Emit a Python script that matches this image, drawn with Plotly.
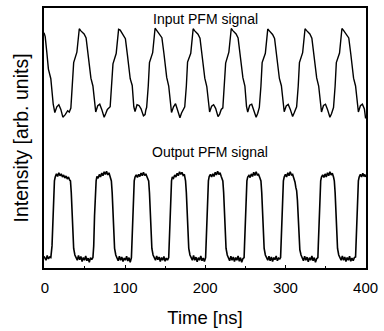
import plotly.graph_objects as go

# ---- Input PFM signal (time in ns, intensity in arb. units) ----
in_t = [-1, 0.5, 2.5, 4.5, 7.5, 10.5, 12.5, 15, 17.5, 20, 22.5, 25.5, 28.5, 30.5,
        32.5, 34.5, 36, 40, 42, 43, 45, 47, 49, 51.5, 54, 57.5, 60, 62, 63.5, 66, 68.5, 71, 74, 76, 78,
        81.5, 83.5, 85, 89, 91, 92, 94, 96, 98, 100.5, 103, 106.5, 109, 111, 112.5, 115, 117.5, 120, 123, 125, 126,
        127, 129, 130.5, 134.5, 136.5, 137.5, 139.5, 141.5, 143.5, 146, 148.5, 152, 154.5, 156.5, 158, 160.5, 163, 165.5, 168.5, 170.5, 172.5,
        174.5, 176.5, 178, 182, 184, 185, 187, 189, 191, 193.5, 196, 199.5, 202, 204, 205.5, 208, 210.5, 213, 216, 218, 220,
        222, 224, 225.5, 229.5, 231.5, 232.5, 234.5, 236.5, 238.5, 241, 243.5, 247, 249.5, 251.5, 253, 255.5, 258, 260.5, 263.5, 265.5, 266.5,
        267.5, 269.5, 271, 275, 277, 278, 280, 282, 284, 286.5, 289, 292.5, 295, 297, 298.5, 301, 303.5, 306, 309, 311, 313,
        314, 316, 317.5, 321.5, 323.5, 324.5, 326.5, 328.5, 330.5, 333, 335.5, 339, 341.5, 343.5, 345, 347.5, 350, 352.5, 355.5, 357.5, 359,
        360, 362, 363.5, 367.5, 369.5, 370.5, 372.5, 374.5, 376.5, 379, 381.5, 385, 387.5, 389.5, 391, 393.5, 396, 398.5, 400]
in_v = [0.905, 0.89, 0.83, 0.765, 0.728, 0.63, 0.598, 0.62, 0.628, 0.61, 0.58, 0.59, 0.605, 0.60,
        0.615, 0.70, 0.79, 0.83, 0.895, 0.92, 0.912, 0.905, 0.90, 0.885, 0.825, 0.73, 0.70, 0.625, 0.60, 0.624, 0.63, 0.61, 0.58, 0.594, 0.61,
        0.62, 0.705, 0.785, 0.825, 0.89, 0.918, 0.915, 0.906, 0.898, 0.882, 0.82, 0.728, 0.702, 0.62, 0.602, 0.628, 0.625, 0.612, 0.585, 0.59, 0.608,
        0.618, 0.70, 0.79, 0.828, 0.895, 0.922, 0.914, 0.904, 0.897, 0.886, 0.826, 0.733, 0.70, 0.626, 0.598, 0.62, 0.632, 0.608, 0.578, 0.596, 0.612,
        0.62, 0.70, 0.792, 0.826, 0.893, 0.92, 0.912, 0.906, 0.899, 0.884, 0.822, 0.73, 0.698, 0.624, 0.60, 0.622, 0.628, 0.614, 0.582, 0.592, 0.61,
        0.616, 0.702, 0.788, 0.83, 0.896, 0.921, 0.913, 0.905, 0.90, 0.885, 0.824, 0.732, 0.70, 0.622, 0.60, 0.626, 0.63, 0.61, 0.58, 0.595, 0.61,
        0.618, 0.70, 0.79, 0.826, 0.894, 0.919, 0.912, 0.904, 0.898, 0.883, 0.823, 0.729, 0.701, 0.625, 0.601, 0.623, 0.629, 0.611, 0.583, 0.597, 0.612,
        0.62, 0.70, 0.79, 0.828, 0.895, 0.92, 0.913, 0.906, 0.90, 0.884, 0.825, 0.731, 0.70, 0.624, 0.60, 0.625, 0.63, 0.61, 0.58, 0.593, 0.61,
        0.617, 0.70, 0.79, 0.827, 0.894, 0.921, 0.914, 0.905, 0.899, 0.885, 0.824, 0.73, 0.70, 0.625, 0.60, 0.624, 0.63, 0.612, 0.575]

# ---- Output PFM signal ----
out_t = [-1, 1.5, 3, 4.5, 6, 7.5,
         9, 10, 11, 12, 13, 14.5, 16, 17.5, 19, 20.5, 22, 23.5, 25, 26.5, 28, 29.5, 31, 32, 33, 34, 35, 36, 37.5, 39, 40.5, 42, 43.5, 45, 46.5, 48, 49.5, 51, 52.5, 54, 55.5, 57, 58.5, 60,
         61, 62, 63, 64, 65, 66.5, 68, 69.5, 71, 72.5, 74, 75.5, 77, 78.5, 80, 81.5, 83, 84, 85, 86, 87, 88.5, 90, 91.5, 93, 94.5, 96, 97.5, 99, 100.5, 102, 103.5, 105, 106.5, 108,
         108.5, 109.5, 110.5, 111.5, 112.5, 114, 115.5, 117, 118.5, 120, 121.5, 123, 124.5, 126, 127.5, 129.5, 130.5, 131.5, 132.5, 133.5, 135, 136.5, 138, 139.5, 141, 142.5, 144, 145.5, 147, 148.5, 150, 151.5, 153, 154.5,
         155, 156, 157, 158, 159, 160.5, 162, 163.5, 165, 166.5, 168, 169.5, 171, 172.5, 174, 175.5, 176.5, 177.5, 178.5, 179.5, 181, 182.5, 184, 185.5, 187, 188.5, 190, 191.5, 193, 194.5, 196, 197.5, 199, 200.5,
         201, 202, 203, 204, 205, 206.5, 208, 209.5, 211, 212.5, 214, 215.5, 217, 218.5, 220, 222, 223, 224, 225, 226, 227.5, 229, 230.5, 232, 233.5, 235, 236.5, 238, 239.5, 241, 242.5, 244, 245.5, 247, 248.5,
         249, 250, 251, 252, 253, 254.5, 256, 257.5, 259, 260.5, 262, 263.5, 265, 266.5, 268, 269.5, 270.5, 271.5, 272.5, 273.5, 275, 276.5, 278, 279.5, 281, 282.5, 284, 285.5, 287, 288.5, 290, 291.5, 293, 294,
         294.5, 295.5, 296.5, 297.5, 298.5, 300, 301.5, 303, 304.5, 306, 307.5, 309, 310.5, 312, 313, 314, 315, 316, 317, 318, 319.5, 321, 322.5, 324, 325.5, 327, 328.5, 330, 331.5, 333, 334.5, 336, 337.5, 339, 340.5,
         341, 342, 343, 344, 345, 346.5, 348, 349.5, 351, 352.5, 354, 355.5, 357, 358.5, 360, 361, 362, 363, 364, 365, 366.5, 368, 369.5, 371, 372.5, 374, 375.5, 377, 378.5, 380, 381.5, 383, 384.5, 386, 387.5,
         388, 389, 390, 391, 392, 393.5, 395, 396.5, 398, 399, 400]
out_v = [0.045, 0.03, 0.048, 0.035, 0.042, 0.04,
         0.085, 0.20, 0.29, 0.335, 0.35, 0.362, 0.352, 0.366, 0.355, 0.362, 0.35, 0.358, 0.346, 0.354, 0.342, 0.35, 0.338, 0.335, 0.29, 0.20, 0.12, 0.075, 0.05, 0.042, 0.03, 0.048, 0.032, 0.044, 0.025, 0.04, 0.03, 0.046, 0.028, 0.038, 0.022, 0.04, 0.032, 0.04,
         0.085, 0.20, 0.29, 0.335, 0.352, 0.345, 0.36, 0.35, 0.365, 0.355, 0.37, 0.36, 0.372, 0.358, 0.366, 0.352, 0.335, 0.29, 0.20, 0.12, 0.075, 0.05, 0.04, 0.028, 0.045, 0.03, 0.042, 0.025, 0.038, 0.03, 0.045, 0.027, 0.04, 0.022, 0.04,
         0.085, 0.20, 0.29, 0.335, 0.35, 0.358, 0.348, 0.36, 0.352, 0.365, 0.355, 0.368, 0.356, 0.362, 0.35, 0.335, 0.29, 0.20, 0.12, 0.075, 0.05, 0.04, 0.03, 0.046, 0.032, 0.042, 0.025, 0.04, 0.03, 0.044, 0.026, 0.038, 0.03, 0.04,
         0.085, 0.20, 0.29, 0.335, 0.35, 0.345, 0.358, 0.35, 0.364, 0.355, 0.37, 0.36, 0.368, 0.356, 0.36, 0.335, 0.29, 0.20, 0.12, 0.075, 0.05, 0.042, 0.03, 0.048, 0.03, 0.042, 0.024, 0.04, 0.03, 0.046, 0.028, 0.038, 0.025, 0.04,
         0.085, 0.20, 0.29, 0.335, 0.352, 0.36, 0.35, 0.362, 0.352, 0.368, 0.358, 0.372, 0.36, 0.366, 0.352, 0.335, 0.29, 0.20, 0.12, 0.075, 0.05, 0.04, 0.028, 0.045, 0.03, 0.042, 0.025, 0.04, 0.03, 0.046, 0.026, 0.04, 0.022, 0.036, 0.04,
         0.085, 0.20, 0.29, 0.335, 0.35, 0.356, 0.348, 0.362, 0.352, 0.368, 0.356, 0.37, 0.358, 0.36, 0.348, 0.335, 0.29, 0.20, 0.12, 0.075, 0.05, 0.04, 0.03, 0.045, 0.028, 0.042, 0.025, 0.04, 0.032, 0.046, 0.028, 0.038, 0.035, 0.04,
         0.085, 0.20, 0.29, 0.335, 0.35, 0.36, 0.35, 0.366, 0.355, 0.37, 0.358, 0.36, 0.345, 0.33, 0.31, 0.298, 0.26, 0.18, 0.11, 0.07, 0.05, 0.04, 0.028, 0.045, 0.03, 0.042, 0.024, 0.04, 0.03, 0.046, 0.028, 0.04, 0.022, 0.036, 0.04,
         0.085, 0.20, 0.29, 0.335, 0.35, 0.358, 0.348, 0.362, 0.35, 0.366, 0.355, 0.37, 0.358, 0.364, 0.35, 0.335, 0.29, 0.20, 0.12, 0.075, 0.05, 0.04, 0.03, 0.046, 0.03, 0.042, 0.025, 0.04, 0.03, 0.045, 0.026, 0.038, 0.028, 0.04, 0.042,
         0.085, 0.20, 0.29, 0.335, 0.35, 0.36, 0.35, 0.364, 0.352, 0.36, 0.35]

x_ticks = [0, 100, 200, 300, 400]
labels = ["Input PFM signal", "Output PFM signal"]

FONT = "Liberation Sans, Arial, Helvetica, sans-serif"

fig = go.Figure()
fig.add_trace(go.Scatter(x=in_t, y=in_v, mode="lines", name=labels[0],
                         line=dict(color="black", width=1.4), showlegend=False))
fig.add_trace(go.Scatter(x=out_t, y=out_v, mode="lines", name=labels[1],
                         line=dict(color="black", width=1.6), showlegend=False))

fig.add_annotation(x=200.6, y=0.959, xref="x", yref="y", text=labels[0], showarrow=False,
                   font=dict(family=FONT, size=14, color="black"), xanchor="center", yanchor="middle")
fig.add_annotation(x=206, y=0.448, xref="x", yref="y", text=labels[1], showarrow=False,
                   font=dict(family=FONT, size=14, color="black"), xanchor="center", yanchor="middle")

fig.update_layout(
    width=384, height=331,
    margin=dict(l=44, r=16, t=6, b=55),
    paper_bgcolor="white", plot_bgcolor="white",
    font=dict(family=FONT, color="black"),
    xaxis=dict(range=[-1, 400.5], tickvals=x_ticks, ticktext=[str(v) for v in x_ticks],
               ticks="inside", ticklen=3, tickwidth=1, tickcolor="black",
               minor=dict(dtick=50, ticks="inside", ticklen=2, tickcolor="black"),
               showline=True, mirror=True, linecolor="black", linewidth=1.5,
               showgrid=False, zeroline=False, ticklabelstandoff=5,
               tickfont=dict(family=FONT, size=15, color="black"),
               title=dict(text="Time [ns]", font=dict(family=FONT, size=18.5, color="black"), standoff=16)),
    yaxis=dict(range=[0, 1], showticklabels=False, ticks="",
               showline=True, mirror=True, linecolor="black", linewidth=1.5,
               showgrid=False, zeroline=False,
               title=dict(text="Intensity [arb. units]", font=dict(family=FONT, size=19.5, color="black"), standoff=8)),
)

fig.write_html("out.html")
